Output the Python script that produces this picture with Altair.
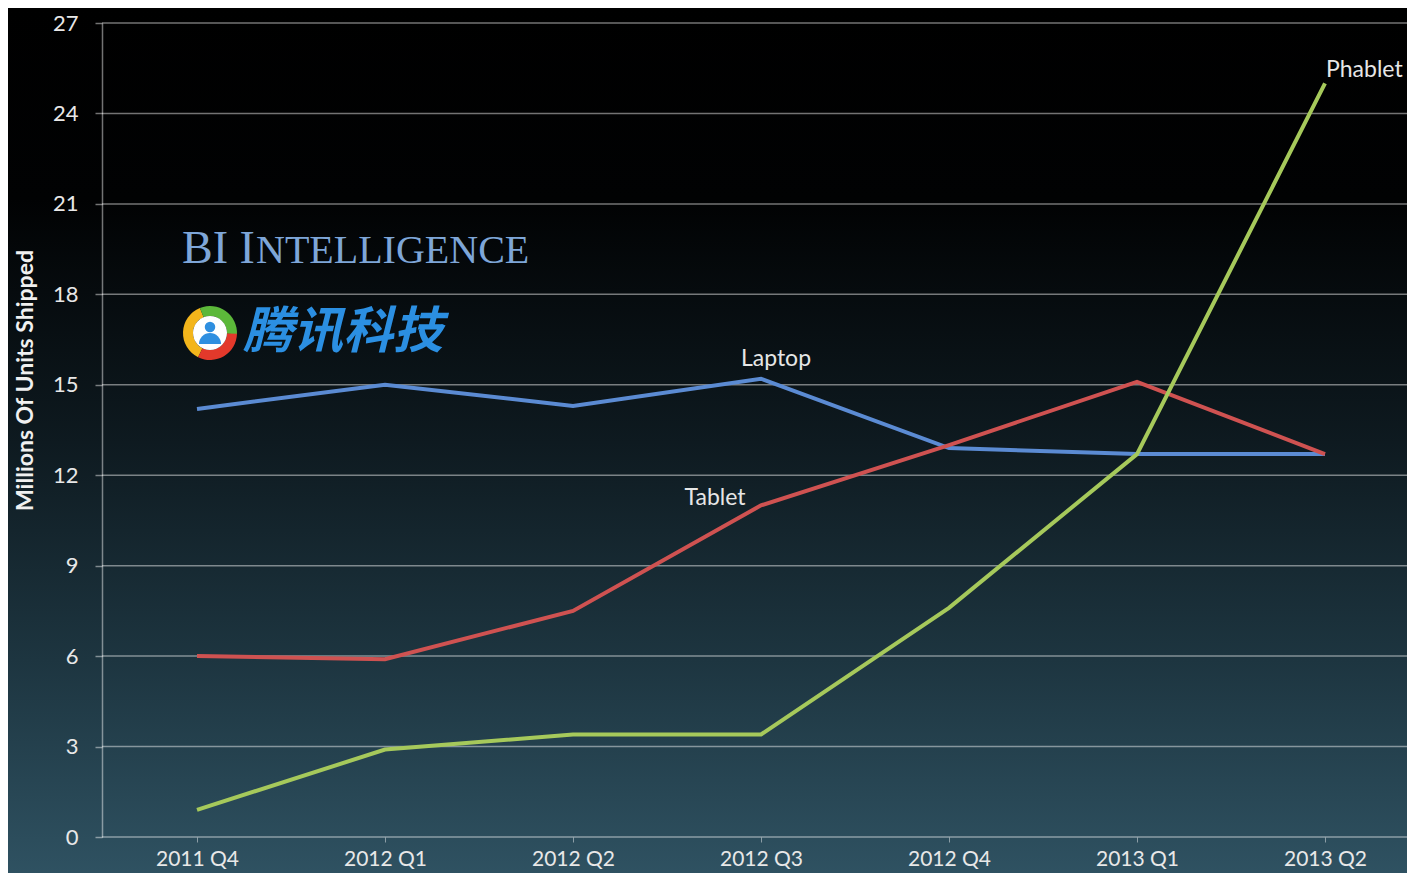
import altair as alt
import pandas as pd

# ---------------- data ----------------
quarters = ["2011 Q4", "2012 Q1", "2012 Q2", "2012 Q3", "2012 Q4", "2013 Q1", "2013 Q2"]
laptop = [14.2, 15.0, 14.3, 15.2, 12.9, 12.7, 12.7]
tablet = [6.0, 5.9, 7.5, 11.0, 13.0, 15.1, 12.7]
phablet = [0.9, 2.9, 3.4, 3.4, 7.6, 12.7, 25.0]
series_names = ["Laptop", "Tablet", "Phablet"]
series_colors = ["#5b8bd3", "#cf5251", "#a6c95b"]
y_ticks = [0, 3, 6, 9, 12, 15, 18, 21, 24, 27]
label_index = {"Laptop": 3, "Tablet": 3, "Phablet": 6}

W, H = 1305, 814
PAD_TOP = 15
FONT = "Lato"

rows = []
for name, vals in zip(series_names, [laptop, tablet, phablet]):
    for q, v in zip(quarters, vals):
        rows.append({"quarter": q, "value": v, "series": name})
df = pd.DataFrame(rows)

lab_rows = []
for name, vals in zip(series_names, [laptop, tablet, phablet]):
    i = label_index[name]
    lab_rows.append({"quarter": quarters[i], "value": vals[i], "series": name})
labels = pd.DataFrame(lab_rows)

grid_df = pd.DataFrame({"v": y_ticks})

x_scale = alt.Scale(type="point", domain=quarters, range=[95, 1223], padding=0)
y_scale = alt.Scale(domain=[0, 27], nice=False, zero=True)

# ---------------- background ----------------
bg = alt.Chart(pd.DataFrame({"a": [0]})).mark_rect(
    fill=alt.LinearGradient(
        gradient="linear",
        stops=[
            alt.GradientStop(offset=0.0, color="#000000"),
            alt.GradientStop(offset=0.22, color="#010203"),
            alt.GradientStop(offset=0.5, color="#0e1a20"),
            alt.GradientStop(offset=0.75, color="#1d3540"),
            alt.GradientStop(offset=1.0, color="#2f5262"),
        ],
        x1=0, x2=0, y1=0, y2=1,
    ),
    strokeWidth=0,
).encode(
    x=alt.value(-94), x2=alt.value(W + 10),
    y=alt.value(-PAD_TOP), y2=alt.value(H + 40),
)

grid = alt.Chart(grid_df).mark_rule(color="#ffffff", opacity=0.45, strokeWidth=1.5).encode(
    y=alt.Y("v:Q", scale=y_scale),
    x=alt.value(0), x2=alt.value(W),
)

# ---------------- watermark ----------------
off = 12 - PAD_TOP  # keep decorations at the same page position
bi1 = alt.Chart(pd.DataFrame({"t": ["BI I"]})).mark_text(
    font="Liberation Serif", fontSize=46, color="#7ea6d8", align="left", baseline="alphabetic"
).encode(text="t:N", x=alt.value(80), y=alt.value(243 + off))
bi2 = alt.Chart(pd.DataFrame({"t": ["NTELLIGENCE"]})).mark_text(
    font="Liberation Serif", fontSize=40, color="#7ea6d8", align="left", baseline="alphabetic"
).encode(text="t:N", x=alt.value(154), y=alt.value(243 + off))

ring_parts = [
    ("#f3b51b", 3.6, 5.9),
    ("#5cb83a", 5.9, 7.9),
    ("#e3392b", 1.6, 3.6),
]
logo = []
for col, t1, t2 in ring_parts:
    logo.append(
        alt.Chart(pd.DataFrame({"a": [0]})).mark_arc(
            theta=t1, theta2=t2, radius=27, radius2=17, color=col
        ).encode(x=alt.value(108), y=alt.value(313 + off))
    )
logo.append(
    alt.Chart(pd.DataFrame({"a": [0]})).mark_arc(
        theta=0, theta2=6.2832, radius=17, color="#ffffff"
    ).encode(x=alt.value(108), y=alt.value(313 + off))
)
logo.append(
    alt.Chart(pd.DataFrame({"a": [0]})).mark_arc(
        theta=4.7124, theta2=7.854, radius=11, color="#2f8fe0"
    ).encode(x=alt.value(108), y=alt.value(324 + off))
)
logo.append(
    alt.Chart(pd.DataFrame({"a": [0]})).mark_circle(size=110, color="#2f8fe0", opacity=1).encode(
        x=alt.value(108), y=alt.value(307 + off)
    )
)
tencent = alt.Chart(pd.DataFrame({"t": ["腾讯科技"]})).mark_text(
    font="Noto Sans CJK SC", fontSize=50, fontWeight="bold", fontStyle="italic",
    color="#2b8fe2", align="left", baseline="middle"
).encode(text="t:N", x=alt.value(141), y=alt.value(313 + off))

# ---------------- data marks ----------------
lines = alt.Chart(df).mark_line(strokeWidth=4).encode(
    x=alt.X(
        "quarter:O", scale=x_scale, title=None,
        axis=alt.Axis(
            labelAngle=0, labelFont=FONT, labelFontSize=21, labelColor="#e8e8e8",
            labelPadding=6, tickSize=5, tickColor="#ffffff", tickOpacity=0.45,
            domain=False, grid=False, zindex=1,
        ),
    ),
    y=alt.Y(
        "value:Q", scale=y_scale, title="Millions Of Units Shipped",
        axis=alt.Axis(
            values=y_ticks, grid=False, labelFont=FONT, labelFontSize=22, labelColor="#e8e8e8",
            labelPadding=17, tickSize=7, tickWidth=1.5, tickColor="#ffffff", tickOpacity=0.45,
            domainColor="#ffffff", domainOpacity=0.45, domainWidth=1.5,
            titleFont=FONT, titleFontSize=23, titleFontWeight="bold", titleColor="#f0f0f0",
            titleAngle=270, titleAlign="center", titleBaseline="middle",
            titleX=-77, titleY=360 + off, zindex=1,
        ),
    ),
    color=alt.Color("series:N", scale=alt.Scale(domain=series_names, range=series_colors), legend=None),
    detail="series:N",
)

label_specs = {"Laptop": (15, -20, "center"), "Tablet": (-46, -7, "center"), "Phablet": (1, -13, "left")}
texts = []
for name in series_names:
    dx, dy, al = label_specs[name]
    texts.append(
        alt.Chart(labels[labels.series == name]).mark_text(
            font=FONT, fontSize=23, color="#e6e6e6", dx=dx, dy=dy, align=al, baseline="middle"
        ).encode(
            x=alt.X("quarter:O", scale=x_scale),
            y=alt.Y("value:Q", scale=y_scale),
            text="series:N",
        )
    )

chart = alt.layer(bg, grid, bi1, bi2, *logo, tencent, lines, *texts).properties(
    width=W, height=H,
    autosize=alt.AutoSizeParams(type="none"),
    padding={"left": 94, "top": PAD_TOP, "right": 0, "bottom": 36},
    background="#000000",
).configure_view(strokeWidth=0)

chart.save("out.html", embed_options={"renderer": "svg", "actions": False})
